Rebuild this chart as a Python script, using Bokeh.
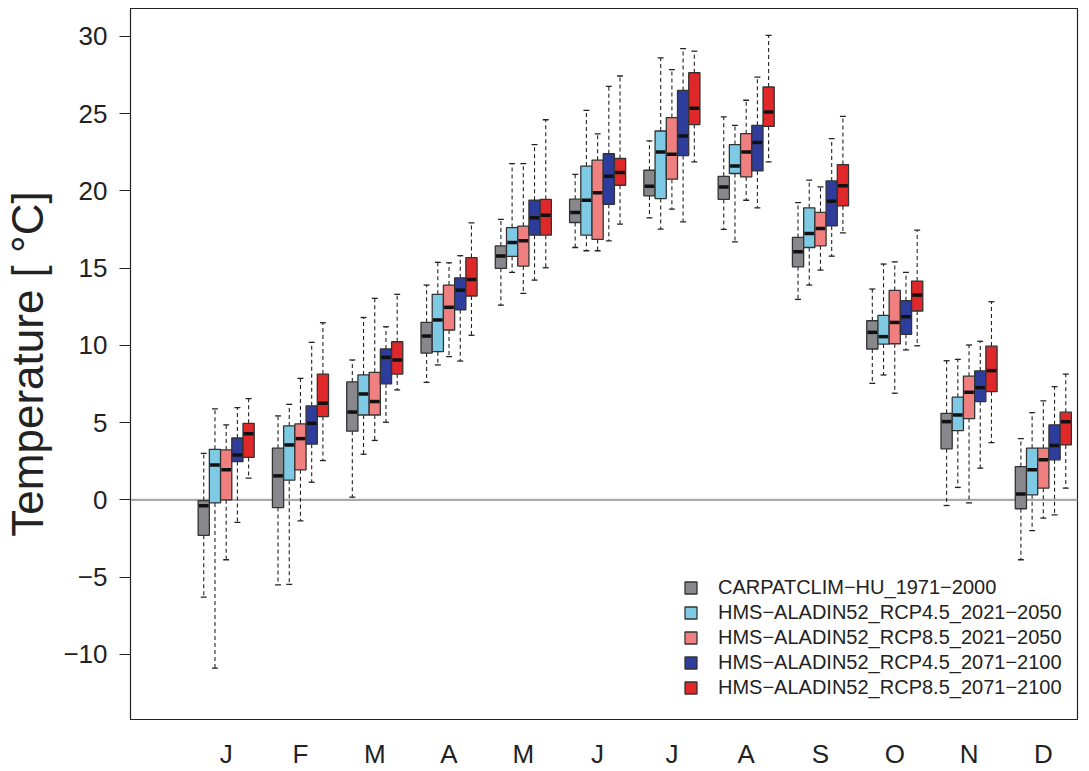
from bokeh.plotting import figure
from bokeh.models import ColumnDataSource, FixedTicker, Legend, LegendItem, Span
from bokeh.embed import file_html
from bokeh.resources import INLINE

months = ["J", "F", "M", "A", "M", "J", "J", "A", "S", "O", "N", "D"]
series_names = [
    "CARPATCLIM\u2212HU_1971\u22122000",
    "HMS\u2212ALADIN52_RCP4.5_2021\u22122050",
    "HMS\u2212ALADIN52_RCP8.5_2021\u22122050",
    "HMS\u2212ALADIN52_RCP4.5_2071\u22122100",
    "HMS\u2212ALADIN52_RCP8.5_2071\u22122100",
]
colors = ["#88888c", "#7ecae4", "#f08080", "#2e3c9c", "#e0282a"]

# per series: upper whisker, Q3, median, Q1, lower whisker (Jan..Dec)
carp_hi  = [3.0, 5.43, 9.05, 13.9, 18.15, 21.07, 23.23, 24.78, 19.24, 13.64, 9.0, 3.96]
carp_q3  = [-0.05, 3.34, 7.63, 11.49, 16.43, 19.46, 21.33, 20.94, 16.98, 11.59, 5.6, 2.15]
carp_med = [-0.39, 1.55, 5.68, 10.6, 15.78, 18.6, 20.3, 20.25, 16.05, 10.84, 5.06, 0.37]
carp_q1  = [-2.3, -0.5, 4.44, 9.5, 14.98, 17.95, 19.67, 19.44, 15.08, 9.76, 3.3, -0.58]
carp_lo  = [-6.3, -5.5, 0.17, 7.6, 12.6, 16.33, 18.25, 17.5, 12.97, 7.54, -0.37, -3.88]

r45a_hi  = [5.88, 6.18, 11.8, 15.37, 21.76, 25.2, 28.6, 24.24, 20.69, 15.26, 9.09, 5.64]
r45a_q3  = [3.27, 4.78, 8.08, 13.3, 17.62, 21.6, 23.87, 22.99, 18.9, 11.94, 6.64, 3.34]
r45a_med = [2.26, 3.55, 6.85, 11.64, 16.65, 19.39, 22.51, 21.6, 17.24, 10.56, 5.49, 1.94]
r45a_q1  = [-0.2, 1.27, 5.49, 9.59, 15.75, 17.13, 19.5, 21.12, 16.33, 10.08, 4.48, 0.32]
r45a_lo  = [-10.9, -5.47, 2.95, 8.73, 14.72, 16.12, 17.52, 16.7, 13.9, 8.08, 0.8, -2.0]

r85a_hi  = [4.85, 7.86, 13.04, 15.34, 21.76, 23.68, 27.84, 25.86, 20.25, 15.4, 10.02, 6.4]
r85a_q3  = [3.23, 4.91, 8.25, 13.9, 17.71, 21.98, 24.74, 23.7, 18.6, 13.55, 8.0, 3.34]
r85a_med = [1.94, 3.96, 6.36, 12.46, 16.76, 19.87, 22.37, 22.51, 17.56, 11.48, 6.96, 2.59]
r85a_q1  = [0.0, 1.94, 5.49, 10.99, 15.13, 16.85, 20.75, 20.9, 16.44, 10.1, 5.26, 0.75]
r85a_lo  = [-3.88, -1.36, 3.84, 9.27, 13.36, 16.12, 18.81, 19.39, 14.87, 6.9, -0.2, -1.18]

r45b_hi  = [5.97, 10.19, 11.2, 15.8, 22.99, 26.76, 29.2, 27.36, 23.38, 14.72, 10.26, 7.32]
r45b_q3  = [4.0, 6.08, 9.76, 14.37, 19.39, 22.4, 26.5, 24.24, 20.64, 12.89, 8.34, 4.85]
r45b_med = [2.9, 4.95, 9.22, 13.57, 18.25, 20.94, 23.55, 23.12, 19.33, 11.85, 7.26, 3.51]
r45b_q1  = [2.48, 3.6, 7.5, 12.3, 17.13, 19.13, 22.28, 21.29, 17.73, 10.71, 6.36, 2.59]
r45b_lo  = [-1.46, 1.14, 5.02, 8.98, 14.22, 16.76, 17.99, 18.9, 15.77, 9.7, 2.05, -0.97]

r85b_hi  = [6.55, 11.46, 13.3, 17.93, 24.6, 27.43, 29.04, 30.06, 24.82, 17.45, 12.82, 8.14]
r85b_q3  = [4.95, 8.14, 10.23, 15.68, 19.45, 22.09, 27.64, 26.72, 21.7, 14.16, 9.95, 5.67]
r85b_med = [4.27, 6.25, 9.05, 14.26, 18.42, 21.18, 25.34, 25.1, 20.32, 13.25, 8.36, 5.06]
r85b_q1  = [2.74, 5.39, 8.14, 13.19, 17.13, 20.36, 24.29, 24.18, 19.02, 12.22, 7.0, 3.55]
r85b_lo  = [1.4, 2.54, 7.11, 10.65, 15.02, 17.84, 21.87, 21.87, 17.28, 9.97, 3.7, 0.75]

stats = [
    (carp_hi, carp_q3, carp_med, carp_q1, carp_lo),
    (r45a_hi, r45a_q3, r45a_med, r45a_q1, r45a_lo),
    (r85a_hi, r85a_q3, r85a_med, r85a_q1, r85a_lo),
    (r45b_hi, r45b_q3, r45b_med, r45b_q1, r45b_lo),
    (r85b_hi, r85b_q3, r85b_med, r85b_q1, r85b_lo),
]

FONT = "Liberation Sans"
p = figure(width=1089, height=771, output_backend="svg", toolbar_location=None,
           x_range=(-0.288, 12.46), y_range=(-14.22, 31.8),
           min_border_left=130, min_border_right=12, min_border_top=8, min_border_bottom=51)
p.grid.visible = False
p.outline_line_color = "#222222"
p.outline_line_width = 1.2
p.background_fill_color = "white"
p.border_fill_color = "white"

p.add_layout(Span(location=0, dimension="width", line_color="#aaaaaa", line_width=2.2, level="underlay"))

step = 0.151
bw = 0.151
cap = 0.04
items = []
for k, (hi, q3, med, q1, lo) in enumerate(stats):
    xs = [m + 1 + (k - 2) * step for m in range(12)]
    src = ColumnDataSource(dict(x=xs, left=[x - bw / 2 for x in xs], right=[x + bw / 2 for x in xs],
                                hi=hi, q3=q3, med=med, q1=q1, lo=lo,
                                c0=[x - cap for x in xs], c1=[x + cap for x in xs],
                                ml=[x - bw / 2 + 0.01 for x in xs], mr=[x + bw / 2 - 0.01 for x in xs]))
    p.segment(x0="x", y0="q3", x1="x", y1="hi", source=src, line_color="#222222", line_width=1.1, line_dash="4 3")
    p.segment(x0="x", y0="q1", x1="x", y1="lo", source=src, line_color="#222222", line_width=1.1, line_dash="4 3")
    p.segment(x0="c0", y0="hi", x1="c1", y1="hi", source=src, line_color="#222222", line_width=1.3)
    p.segment(x0="c0", y0="lo", x1="c1", y1="lo", source=src, line_color="#222222", line_width=1.3)
    r = p.quad(left="left", right="right", top="q3", bottom="q1", source=src,
               fill_color=colors[k], line_color="#333333", line_width=1.3)
    p.segment(x0="ml", y0="med", x1="mr", y1="med", source=src, line_color="#111111", line_width=3.5)
    items.append(LegendItem(label=series_names[k], renderers=[r]))

legend = Legend(items=items, location=(553, 20), padding=0, margin=0,
                border_line_color=None, background_fill_alpha=0,
                glyph_width=15, glyph_height=15, label_height=20, spacing=2,
                label_standoff=20, label_text_font=FONT, label_text_font_size="20px",
                label_text_color="#222222")
p.add_layout(legend)

p.yaxis.ticker = FixedTicker(ticks=[-10, -5, 0, 5, 10, 15, 20, 25, 30])
p.yaxis.major_label_overrides = {-10: "\u221210", -5: "\u22125"}
p.yaxis.major_label_text_font = FONT
p.yaxis.major_label_text_font_size = "26px"
p.yaxis.major_label_text_color = "#222222"
p.yaxis.major_tick_out = 11
p.yaxis.major_tick_in = 0
p.yaxis.minor_tick_line_color = None
p.yaxis.major_tick_line_color = "#222222"
p.yaxis.axis_line_color = "#222222"
p.yaxis.major_label_standoff = 12
p.yaxis.axis_label = "Temperature [ \u00b0C]"
p.yaxis.axis_label_text_font = FONT
p.yaxis.axis_label_text_font_style = "normal"
p.yaxis.axis_label_text_font_size = "44px"
p.yaxis.axis_label_text_color = "#222222"
p.yaxis.axis_label_standoff = 8

p.xaxis.ticker = FixedTicker(ticks=list(range(1, 13)))
p.xaxis.major_label_overrides = {i + 1: months[i] for i in range(12)}
p.xaxis.major_label_text_font = FONT
p.xaxis.major_label_text_font_size = "26px"
p.xaxis.major_label_text_color = "#222222"
p.xaxis.major_tick_line_color = None
p.xaxis.minor_tick_line_color = None
p.xaxis.axis_line_color = None
p.xaxis.major_label_standoff = 13

open("out.html", "w").write(file_html(p, INLINE))
